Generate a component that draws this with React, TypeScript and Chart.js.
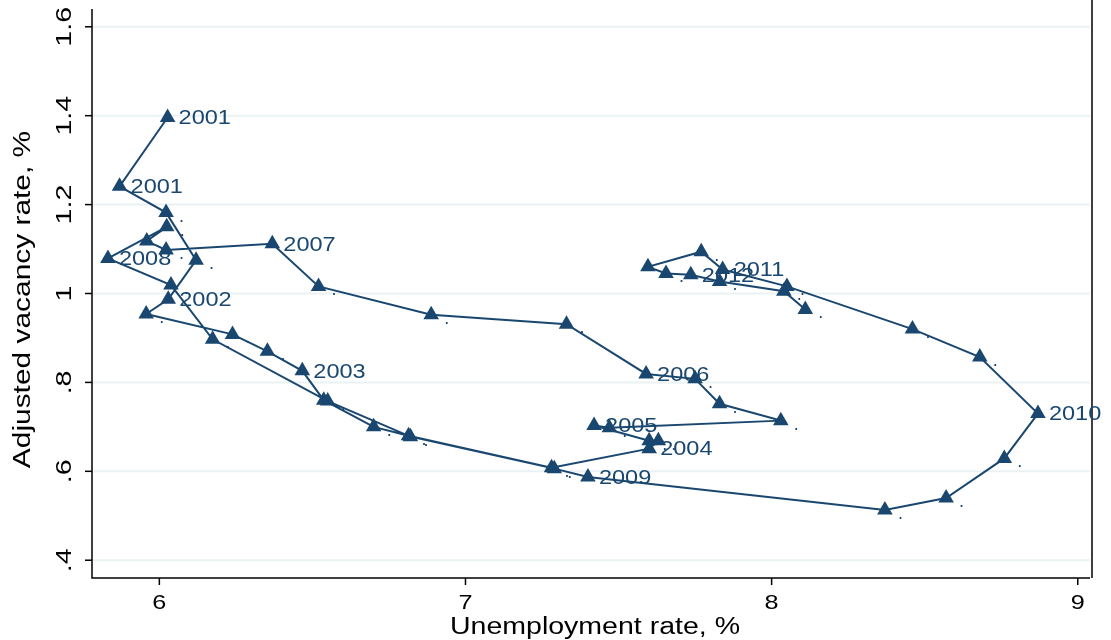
import React, { useEffect, useRef } from "react";
import { Chart, registerables } from "chart.js";
Chart.register(...registerables);

const unemployment = [6.027, 5.87, 6.022, 6.12, 6.029, 5.957, 6.239, 6.353, 6.467, 6.537, 6.70, 6.814, 7.281, 7.60, 7.63, 7.60, 7.42, 7.47, 8.03, 7.83, 7.75, 7.59, 7.33, 6.888, 6.52, 6.369, 6.022, 5.959, 6.024, 5.832, 6.038, 6.174, 6.55, 6.82, 7.29, 7.40, 8.37, 8.57, 8.76, 8.87, 8.68, 8.46, 8.05, 7.84, 7.77, 7.596, 7.655, 7.736, 7.83, 8.04, 8.11];
const vacancy = [1.396, 1.241, 1.182, 1.075, 0.987, 0.954, 0.908, 0.870, 0.826, 0.760, 0.700, 0.680, 0.608, 0.651, 0.669, 0.669, 0.703, 0.698, 0.714, 0.752, 0.808, 0.819, 0.931, 0.952, 1.016, 1.112, 1.098, 1.118, 1.150, 1.079, 1.019, 0.897, 0.758, 0.678, 0.606, 0.587, 0.513, 0.540, 0.629, 0.730, 0.857, 0.920, 1.016, 1.054, 1.094, 1.060, 1.045, 1.042, 1.027, 1.005, 0.964];
const pointLabels = ["2001", "2001", ".", ".", "2002", ".", ".", ".", "2003", ".", ".", ".", ".", "2004", ".", ".", "2005", ".", ".", ".", ".", "2006", ".", ".", ".", "2007", ".", ".", ".", "2008", ".", ".", ".", ".", ".", "2009", ".", ".", ".", "2010", ".", ".", ".", "2011", ".", ".", ".", "2012", ".", ".", "."];
const xTicks = [6, 7, 8, 9];
const yTicks = [0.4, 0.6, 0.8, 1.0, 1.2, 1.4, 1.6];
const yTickLabels = [".4", ".6", ".8", "1", "1.2", "1.4", "1.6"];

const NAVY = "#1a476f";
const FONT = "'Liberation Sans', Arial, sans-serif";

function wideText(ctx: any, text: string, x: number, y: number, rot: number, sx: number) {
  ctx.save();
  ctx.translate(x, y);
  ctx.rotate(rot);
  ctx.scale(sx, 1);
  ctx.fillText(text, 0, 0);
  ctx.restore();
}

export default function App() {
  const ref = useRef<HTMLCanvasElement>(null);
  useEffect(() => {
    const custom = {
      id: "custom",
      beforeDatasetsDraw(chart: any) {
        const { ctx, chartArea: a, scales } = chart;
        ctx.save();
        ctx.strokeStyle = "#eaf2f3";
        ctx.lineWidth = 2;
        yTicks.forEach((v) => {
          const y = scales.y.getPixelForValue(v);
          ctx.beginPath(); ctx.moveTo(a.left, y); ctx.lineTo(a.right, y); ctx.stroke();
        });
        ctx.restore();
      },
      afterDraw(chart: any) {
        const { ctx, chartArea: a, scales } = chart;
        ctx.save();
        ctx.strokeStyle = "#000"; ctx.lineWidth = 1.5;
        ctx.beginPath();
        ctx.moveTo(a.left, a.top); ctx.lineTo(a.left, a.bottom); ctx.lineTo(a.right, a.bottom);
        ctx.moveTo(a.right + 2, 0); ctx.lineTo(a.right + 2, a.bottom);
        ctx.stroke();
        ctx.fillStyle = "#000";
        ctx.font = `21px ${FONT}`;
        ctx.textAlign = "center"; ctx.textBaseline = "middle";
        xTicks.forEach((v) => {
          const x = scales.x.getPixelForValue(v);
          ctx.beginPath(); ctx.moveTo(x, a.bottom); ctx.lineTo(x, a.bottom + 7); ctx.stroke();
          wideText(ctx, String(v), x, a.bottom + 25, 0, 1.2);
        });
        ctx.font = `22px ${FONT}`;
        yTicks.forEach((v, i) => {
          const y = scales.y.getPixelForValue(v);
          ctx.beginPath(); ctx.moveTo(a.left, y); ctx.lineTo(a.left - 7, y); ctx.stroke();
          wideText(ctx, yTickLabels[i], a.left - 27, y, -Math.PI / 2, 1.3);
        });
        ctx.font = `23px ${FONT}`;
        wideText(ctx, "Unemployment rate, %", (a.left + a.right) / 2 + 4, a.bottom + 50, 0, 1.24);
        wideText(ctx, "Adjusted vacancy rate, %", 24, (a.top + a.bottom) / 2 + 6, -Math.PI / 2, 1.3);
        // point labels
        const meta = chart.getDatasetMeta(0);
        ctx.fillStyle = NAVY;
        ctx.textAlign = "left";
        meta.data.forEach((p: any, i: number) => {
          const t = pointLabels[i];
          if (t === ".") { ctx.font = `18px ${FONT}`; ctx.fillText(".", p.x + 13, p.y + 4); }
          else { ctx.font = `21px ${FONT}`; wideText(ctx, t, p.x + 11, p.y + 1, 0, 1.12); }
        });
        ctx.restore();
      },
    };
    const chart = new Chart(ref.current!, {
      type: "scatter",
      data: {
        datasets: [{
          data: unemployment.map((x, i) => ({ x, y: vacancy[i] })),
          showLine: true,
          borderColor: NAVY,
          backgroundColor: NAVY,
          borderWidth: 2,
          pointStyle: "triangle",
          pointRadius: 9,
          pointBorderWidth: 0,
          tension: 0,
        }],
      },
      options: {
        animation: false,
        responsive: false,
        layout: { padding: { left: 92, right: 21, top: 5, bottom: 62 } },
        plugins: { legend: { display: false }, tooltip: { enabled: false } },
        scales: {
          x: { type: "linear", min: 5.78, max: 9.04, display: false },
          y: { type: "linear", min: 0.36, max: 1.64, display: false },
        },
      },
      plugins: [custom],
    });
    return () => chart.destroy();
  }, []);
  return (
    <div style={{ position: "absolute", left: 0, top: 0, width: 1111, height: 640, background: "#fff" }}>
      <canvas ref={ref} width={1111} height={640} style={{ width: 1111, height: 640 }} />
    </div>
  );
}
